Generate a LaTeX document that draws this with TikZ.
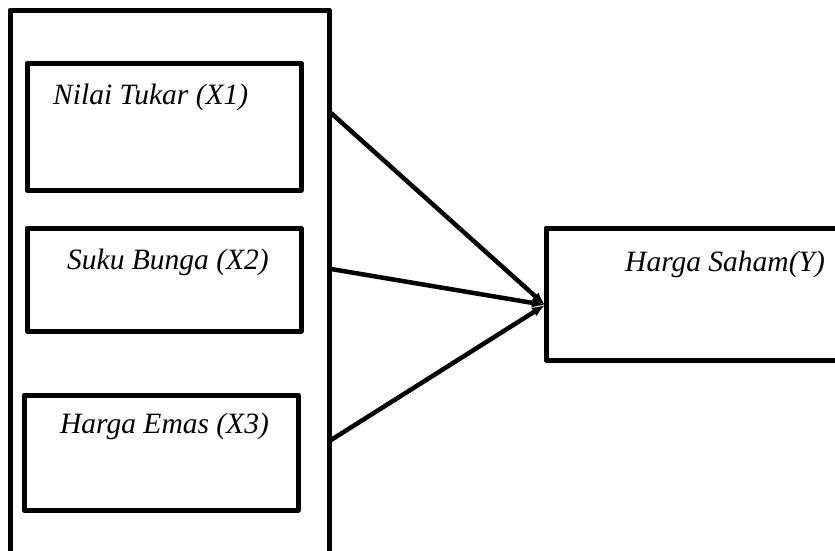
\documentclass[tikz,border=0pt]{standalone}
\usepackage{fontspec}
\setmainfont{Liberation Serif}
\usetikzlibrary{arrows.meta}
\begin{document}
\begin{tikzpicture}[x=1pt,y=-1pt,
  box/.style={draw=black,line width=5pt,line join=round,inner sep=0pt,outer sep=0pt,anchor=north west},
  lbl/.style={anchor=base west,inner sep=0pt,font=\fontsize{29.5}{33}\selectfont\itshape},
  conn/.style={line width=4.5pt,-{Latex[length=13pt,width=10pt]}}]
\useasboundingbox (0,0) rectangle (835,550);
\clip (0,0) rectangle (835,550);
\fill[white] (0,0) rectangle (835,550);
\node[box,minimum width=319pt,minimum height=600pt] (outer) at (10,10) {};
\node[box,minimum width=274pt,minimum height=127pt] (x1) at (27,63) {};
\node[box,minimum width=274pt,minimum height=103pt] (x2) at (27,228) {};
\node[box,minimum width=274pt,minimum height=115pt] (x3) at (24,395) {};
\node[box,minimum width=350pt,minimum height=132pt] (y) at (546,228) {};
\node[lbl] (tx1) at (53,104) {Nilai Tukar (X1)};
\node[lbl] (tx2) at (67,269) {Suku Bunga (X2)};
\node[lbl] (tx3) at (60,433) {Harga Emas (X3)};
\node[lbl] (ty) at (625,271) {Harga Saham(Y)};
\coordinate (s1) at (331,113);
\coordinate (s2) at (331,269);
\coordinate (s3) at (331,440);
\coordinate (t) at (545,305);
\draw[conn] (s1) -- (t);
\draw[conn] (s2) -- (t);
\draw[conn] (s3) -- (t);
\end{tikzpicture}
\end{document}
